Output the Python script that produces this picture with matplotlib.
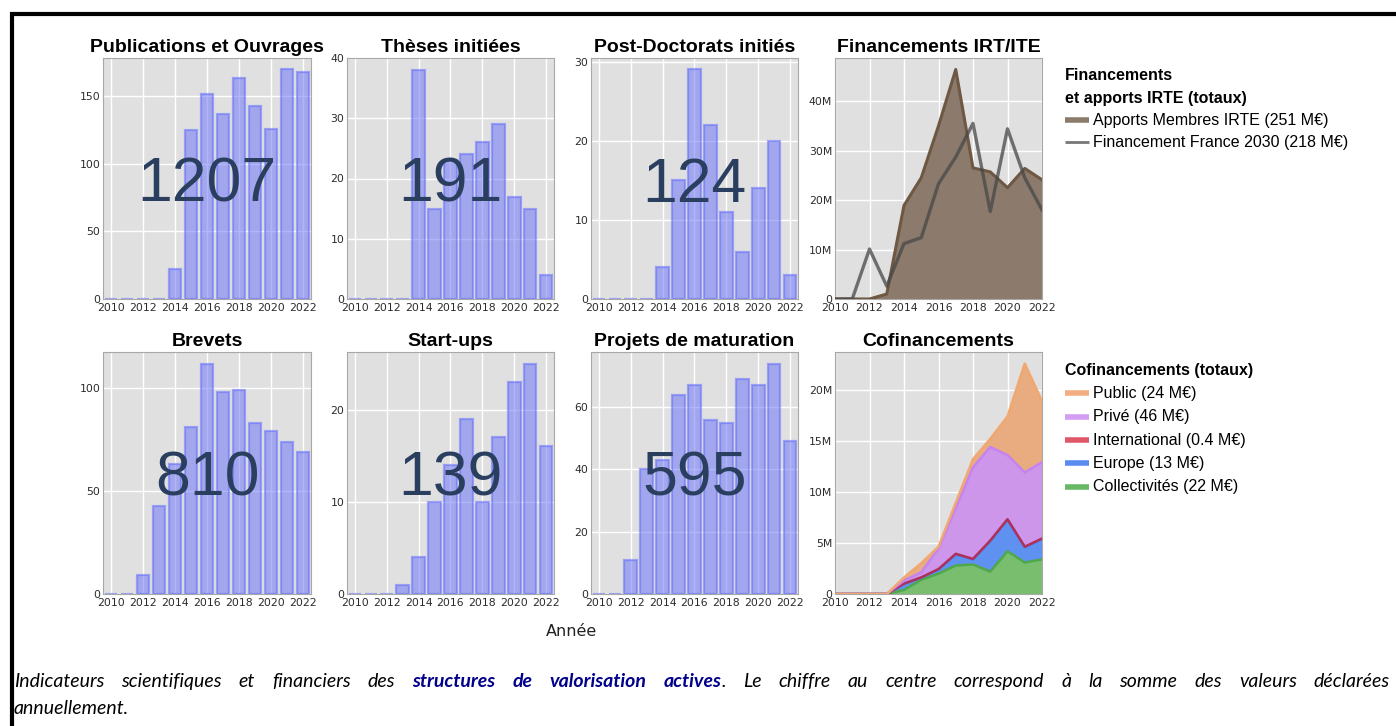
import numpy as np
import matplotlib
matplotlib.use('Agg')
import matplotlib.pyplot as plt
from matplotlib.patches import Rectangle
from matplotlib.lines import Line2D
from matplotlib.ticker import FuncFormatter

# ---------------- data ----------------
years = list(range(2010, 2023))

bar_titles = ["Publications et Ouvrages", "Thèses initiées", "Post-Doctorats initiés",
              "Brevets", "Start-ups", "Projets de maturation"]
publications = [0, 0, 0, 0, 22, 125, 152, 137, 164, 143, 126, 170, 168]
theses = [0, 0, 0, 0, 38, 15, 23, 24, 26, 29, 17, 15, 4]
postdocs = [0, 0, 0, 0, 4, 15, 29, 22, 11, 6, 14, 20, 3]
brevets = [0, 0, 9, 43, 63, 81, 112, 98, 99, 83, 79, 74, 69]
startups = [0, 0, 0, 1, 4, 10, 14, 19, 10, 17, 23, 25, 16]
maturation = [0, 0, 11, 40, 43, 64, 67, 56, 55, 69, 67, 74, 49]
bar_yticks = [[0, 50, 100, 150], [0, 10, 20, 30, 40], [0, 10, 20, 30],
              [0, 50, 100], [0, 10, 20], [0, 20, 40, 60]]

# Financements IRT/ITE (M€)
fin_title = "Financements IRT/ITE"
apports_irte = [0, 0, 0, 1.0, 18.9, 24.5, 35.0, 46.4, 26.5, 25.7, 22.5, 26.4, 24.1]
france_2030 = [0, 0, 10.1, 2.6, 11.2, 12.4, 23.3, 28.7, 35.5, 17.7, 34.4, 24.5, 18.0]
fin_legend_title = "Financements\net apports IRTE (totaux)"
fin_labels = ["Apports Membres IRTE (251 M€)", "Financement France 2030 (218 M€)"]
fin_yticks = [0, 10, 20, 30, 40]

# Cofinancements (M€), stacked bottom -> top
cof_title = "Cofinancements"
collectivites = [0, 0, 0, 0, 0.4, 1.4, 2.0, 2.8, 2.9, 2.2, 4.2, 3.1, 3.4]
europe = [0, 0, 0, 0, 0.6, 0.2, 0.4, 1.1, 0.5, 3.0, 3.1, 1.5, 2.0]
international = [0, 0, 0, 0, 0.02, 0.03, 0.05, 0.05, 0.05, 0.05, 0.05, 0.05, 0.05]
prive = [0, 0, 0, 0, 0.3, 0.5, 2.0, 4.5, 9.0, 9.2, 6.3, 7.3, 7.5]
public = [0, 0, 0, 0, 0.3, 0.9, 0.2, 0.5, 0.8, 0.8, 3.8, 10.7, 6.0]
cof_legend_title = "Cofinancements (totaux)"
cof_labels_top_down = ["Public (24 M€)", "Privé (46 M€)", "International (0.4 M€)",
                       "Europe (13 M€)", "Collectivités (22 M€)"]
cof_yticks = [0, 5, 10, 15, 20]

xlabel = "Année"

# ---------------- style ----------------
W, H = 1396, 726
fig = plt.figure(figsize=(W / 100, H / 100), dpi=100)
fig.patch.set_facecolor('white')

def fx(px):
    return px / W

def fy(py):
    return 1 - py / H

def add_ax(l, t, r, b):
    return fig.add_axes([fx(l), fy(b), (r - l) / W, (b - t) / H])

BG = '#e0e0e0'
TICKC = '#2b2b2b'
NUMC = '#2a3f5f'
BAR_FACE = (99 / 255, 110 / 255, 250 / 255, 0.5)
BAR_EDGE = (99 / 255, 110 / 255, 250 / 255, 0.55)

cols = [(103, 311), (347, 554), (591, 798), (835, 1042)]
rows = [(58, 299), (352, 594)]

def style_ax(ax, title):
    ax.set_facecolor(BG)
    ax.grid(True, color='white', lw=1.0)
    ax.set_axisbelow(True)
    for s in ax.spines.values():
        s.set_color('#a8a8a8')
        s.set_linewidth(0.8)
    ax.tick_params(length=0, labelsize=7.8, colors=TICKC)
    ax.tick_params(axis='x', pad=3.2)
    ax.tick_params(axis='y', pad=2)
    for lab in ax.get_xticklabels() + ax.get_yticklabels():
        lab.set_family('DejaVu Sans')
    ax.set_title(title, fontsize=14, fontweight='bold', family='Liberation Sans',
                 pad=4, color='black')

bar_data = [publications, theses, postdocs, brevets, startups, maturation]
bar_pos = [(0, 0), (0, 1), (0, 2), (1, 0), (1, 1), (1, 2)]

for vals, title, yt, (r, c) in zip(bar_data, bar_titles, bar_yticks, bar_pos):
    t, b = rows[r]
    l, rr = cols[c]
    ax = add_ax(l, t, rr, b)
    ax.bar(years, vals, width=0.8, color=BAR_FACE, edgecolor=BAR_EDGE, linewidth=1.6, zorder=2)
    ax.set_xlim(years[0] - 0.5, years[-1] + 0.5)
    ax.set_ylim(0, max(vals) * 1.05)
    ax.set_xticks(years[::2])
    ax.set_yticks(yt)
    style_ax(ax, title)
    ax.text(0.5, 0.5, f"{sum(vals)}", transform=ax.transAxes, ha='center', va='center_baseline',
            fontsize=45, family='Liberation Sans', color=NUMC, zorder=5)

mfmt = FuncFormatter(lambda v, p: "0" if v == 0 else f"{int(v)}M")

# Financements IRT/ITE
l, rr = cols[3]
t, b = rows[0]
ax = add_ax(l, t, rr, b)
ax.fill_between(years, apports_irte, 0, color='#8c7b6c', lw=0, zorder=2)
ax.plot(years, apports_irte, color='#6e5843', lw=2.2, zorder=3)
ax.plot(years, france_2030, color=(0.28, 0.28, 0.28, 0.75), lw=2.4, zorder=4)
ax.set_xlim(years[0], years[-1])
ax.set_ylim(0, max(max(apports_irte), max(france_2030)) * 1.05)
ax.set_xticks(years[::2])
ax.set_yticks(fin_yticks)
ax.yaxis.set_major_formatter(mfmt)
style_ax(ax, fin_title)

# Cofinancements
t, b = rows[1]
ax = add_ax(l, t, rr, b)
stack = [collectivites, europe, international, prive, public]
fills = ['#78be6e', '#5f91f0', '#d05060', '#cd96eb', '#e8ac80']
lines = ['#4fa84a', '#4a7ef0', '#b0305a', '#c583f0', '#f0a870']
ax.stackplot(years, *stack, colors=fills, lw=0, zorder=2)
cum = np.cumsum(np.array(stack), axis=0)
for top, lc in zip(cum, lines):
    ax.plot(years, top, color=lc, lw=1.8, zorder=3)
ax.set_xlim(years[0], years[-1])
ax.set_ylim(0, cum[-1].max() * 1.05)
ax.set_xticks(years[::2])
ax.set_yticks(cof_yticks)
ax.yaxis.set_major_formatter(mfmt)
style_ax(ax, cof_title)

# ---------------- legends ----------------
LEGF = dict(family='Liberation Sans', fontsize=11.5)

def swatch(y, color, lw):
    fig.add_artist(Line2D([fx(1065), fx(1089)], [fy(y), fy(y)], color=color, lw=lw,
                          transform=fig.transFigure, solid_capstyle='butt'))

tl = fin_legend_title.split("\n")
fig.text(fx(1065), fy(76), tl[0], va='center', ha='left', fontweight='bold', **LEGF)
fig.text(fx(1065), fy(98), tl[1], va='center', ha='left', fontweight='bold', **LEGF)
swatch(120, '#8c7b6c', 4)
fig.text(fx(1093), fy(120), fin_labels[0], va='center', ha='left', **LEGF)
swatch(142, '#777777', 2)
fig.text(fx(1093), fy(142), fin_labels[1], va='center', ha='left', **LEGF)

fig.text(fx(1065), fy(371), cof_legend_title, va='center', ha='left', fontweight='bold', **LEGF)
sw_cols = ['#f2ad80', '#d59cf3', '#e05868', '#5a8cf0', '#66b866']
for i, (lab, sc) in enumerate(zip(cof_labels_top_down, sw_cols)):
    y = 393.5 + i * 23.3
    swatch(y, sc, 4)
    fig.text(fx(1093), fy(y), lab, va='center', ha='left', **LEGF)

# x axis title
fig.text(fx(572), fy(632), xlabel, ha='center', va='center', family='DejaVu Sans',
         fontsize=11.5, color='#222222')

# ---------------- caption (justified) ----------------
CAPF = dict(family='Lato', style='italic', fontsize=14)
line1 = [
    [("Indicateurs", False)], [("scientifiques", False)], [("et", False)], [("financiers", False)],
    [("des", False)], [("structures", True)], [("de", True)], [("valorisation", True)],
    [("actives", True), (".", False)], [("Le", False)], [("chiffre", False)], [("au", False)],
    [("centre", False)], [("correspond", False)], [("à", False)], [("la", False)],
    [("somme", False)], [("des", False)], [("valeurs", False)], [("déclarées", False)],
]
renderer = fig.canvas.get_renderer()
x_left, x_right = 14, 1390
objs = []
widths = []
for grp in line1:
    gobjs = []
    gw = 0
    for txt, bold in grp:
        o = fig.text(0, fy(687), txt, ha='left', va='baseline',
                     fontweight='bold' if bold else 'normal',
                     color='#00008b' if bold else 'black', **CAPF)
        w = o.get_window_extent(renderer=renderer).width
        gobjs.append((o, w))
        gw += w
    objs.append(gobjs)
    widths.append(gw)
gap = (x_right - x_left - sum(widths)) / (len(line1) - 1)
x = x_left
for gobjs, gw in zip(objs, widths):
    xx = x
    for o, w in gobjs:
        o.set_x(fx(xx))
        xx += w
    x += gw + gap
fig.text(fx(x_left), fy(714), "annuellement.", ha='left', va='baseline', color='black', **CAPF)

# ---------------- frame ----------------
fig.add_artist(Rectangle((fx(12), -0.2), 1.2, fy(14) + 0.2, transform=fig.transFigure,
                         fill=False, edgecolor='black', lw=3, clip_on=False))

fig.savefig('out.png', dpi=100, facecolor='white')
